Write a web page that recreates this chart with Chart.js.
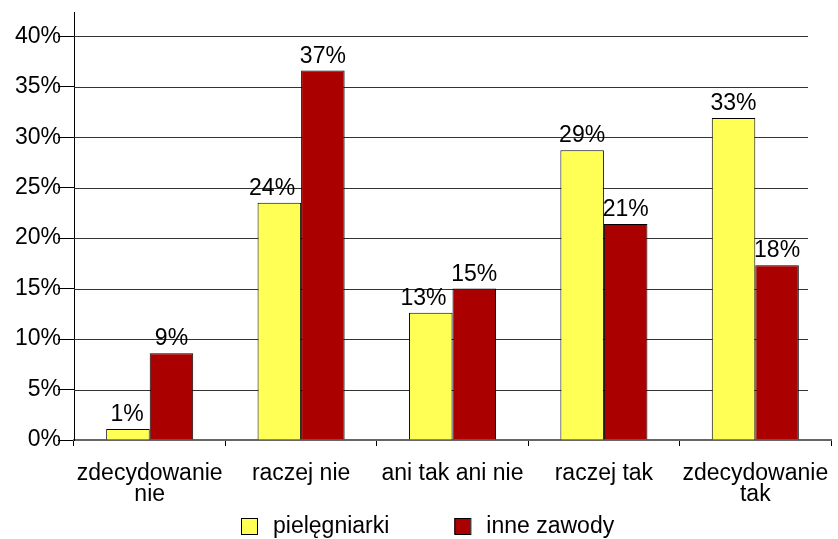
<!DOCTYPE html>
<html>
<head>
<meta charset="utf-8">
<script src="https://cdn.jsdelivr.net/npm/chart.js@4"></script>
<style>
  html, body { margin: 0; padding: 0; background: #fff; }
  canvas { display: block; }
</style>
</head>
<body>
<canvas id="chart" width="838" height="539"></canvas>
<script>
// categories and values
var categories = [['zdecydowanie', 'nie'], 'raczej nie', 'ani tak ani nie', 'raczej tak', ['zdecydowanie', 'tak']];
var seriesNames = ['pielęgniarki', 'inne zawody'];
var pielegniarki = [1.1, 23.5, 12.6, 28.7, 31.9];
var inneZawody = [8.6, 36.6, 15.0, 21.4, 17.3];
var pielegniarkiLabels = ['1%', '24%', '13%', '29%', '33%'];
var inneZawodyLabels = ['9%', '37%', '15%', '21%', '18%'];

var FONT = "'Liberation Sans', Arial, sans-serif";
var yellow = '#FFFF55';
var red = '#AA0000';

// wall gridlines stop short of the right edge (3D look of the original)
var gridPlugin = {
    id: 'wallGrid',
    beforeDatasetsDraw: function(chart) 
    {
        var ctx = chart.ctx;
        var y = chart.scales.y;
        var area = chart.chartArea;
        ctx.save();
        ctx.strokeStyle = '#333';
        ctx.lineWidth = 1;
        y.ticks.forEach(function(t) {
            if (t.value <= 0) return;
            var py = Math.round(y.getPixelForValue(t.value)) + 0.5;
            ctx.beginPath();
            ctx.moveTo(area.left, py);
            ctx.lineTo(area.right - 23, py);
            ctx.stroke();
        });
        ctx.restore();
    }
};

// value labels above each bar
var labelPlugin = {
    id: 'barLabels',
    afterDatasetsDraw: function(chart) 
    {
        var ctx = chart.ctx;
        var texts = [pielegniarkiLabels, inneZawodyLabels];
        var redBars = chart.getDatasetMeta(1).data;
        ctx.save();
        ctx.font = '23px ' + FONT;
        ctx.fillStyle = '#000';
        ctx.textAlign = 'center';
        ctx.textBaseline = 'alphabetic';
        chart.data.datasets.forEach(function(ds, i) {
            chart.getDatasetMeta(i).data.forEach(function(bar, j) {
                var x = bar.x;
                var txt = texts[i][j];
                // yellow label next to a taller red bar: push it left
                if (i === 0 && redBars[j].y < bar.y - 8) {
                    var w = ctx.measureText(txt).width;
                    x = bar.x + bar.width / 2 - 6 - w / 2;
                }
                ctx.fillText(txt, x, bar.y - 8);
            });
        });
        ctx.restore();
    }
};

// legend drawn by hand at the bottom
var legendPlugin = {
    id: 'bottomLegend',
    afterDraw: function(chart) 
    {
        var ctx = chart.ctx;
        var x = 241;
        var boxTop = 518;
        ctx.save();
        ctx.font = '23px ' + FONT;
        ctx.textBaseline = 'alphabetic';
        ctx.textAlign = 'left';
        chart.data.datasets.forEach(function(ds) {
            ctx.fillStyle = ds.backgroundColor;
            ctx.fillRect(x, boxTop, 16, 16);
            ctx.strokeStyle = '#000';
            ctx.lineWidth = 1;
            ctx.strokeRect(x + 0.5, boxTop + 0.5, 16, 16);
            ctx.fillStyle = '#000';
            ctx.fillText(ds.label, x + 32, 533);
            x += 32 + ctx.measureText(ds.label).width + 65;
        });
        ctx.restore();
    }
};

const ctx = document.getElementById('chart');

new Chart(ctx, {
    type: 'bar',
    data: {
        labels: categories,
        datasets: [{
            label: seriesNames[0],
            data: pielegniarki,
            backgroundColor: yellow,
            borderColor: '#000',
            borderWidth: 1
        }, {
            label: seriesNames[1],
            data: inneZawody,
            backgroundColor: red,
            borderColor: '#000',
            borderWidth: 1
        }]
    },
    options: {
        responsive: false,
        animation: false,
        devicePixelRatio: 1,
        layout: {
            padding: { left: 0, top: 12, right: 7, bottom: 0 }
        },
        datasets: {
            bar: {
                categoryPercentage: 0.575,
                barPercentage: 1
            }
        },
        plugins: {
            legend: { display: false },
            tooltip: { enabled: false },
            title: { display: false }
        },
        scales: {
            x: {
                grid: {
                    drawOnChartArea: false,
                    drawTicks: true,
                    tickLength: 6,
                    color: '#000',
                    offset: true
                },
                border: {
                    color: '#666',
                    width: 2
                },
                ticks: {
                    color: '#000',
                    padding: 17,
                    maxRotation: 0,
                    autoSkip: false,
                    font: { family: FONT, size: 23, lineHeight: '21px' }
                },
                afterFit: function(s) {
                    s.height = 99;
                    s.paddingLeft = 0;
                    s.paddingRight = 0;
                }
            },
            y: {
                min: 0,
                max: 42.4,
                grid: {
                    drawOnChartArea: false,
                    tickLength: 16,
                    color: '#000'
                },
                border: {
                    color: '#000',
                    width: 1
                },
                ticks: {
                    stepSize: 5,
                    includeBounds: false,
                    padding: -3,
                    color: '#000',
                    font: { family: FONT, size: 23, lineHeight: 1 },
                    callback: function(v) { return v + '%'; }
                },
                afterFit: function(s) {
                    s.width = 74;
                    s.paddingTop = 0;
                    s.paddingBottom = 0;
                }
            }
        }
    },
    plugins: [gridPlugin, labelPlugin, legendPlugin]
});
</script>
</body>
</html>
